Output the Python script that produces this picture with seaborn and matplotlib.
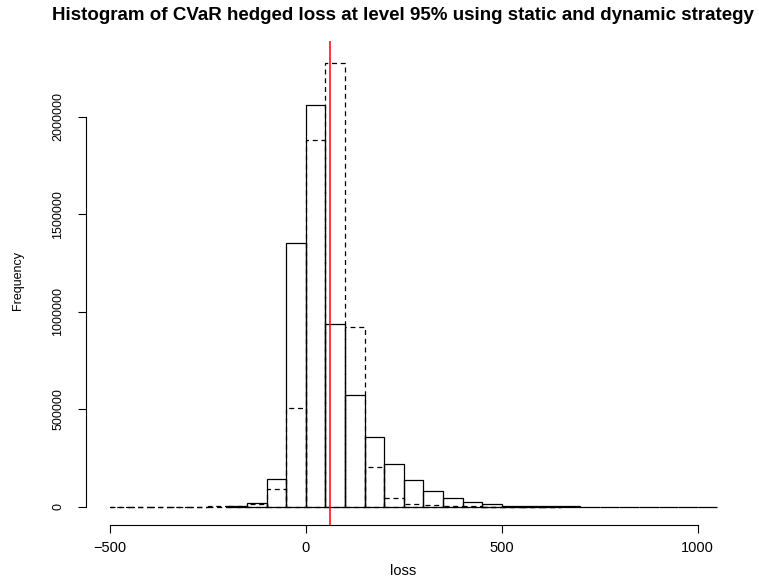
import numpy as np
import pandas as pd
import matplotlib
matplotlib.use("Agg")
import matplotlib.pyplot as plt
import seaborn as sns

# bin edges (width 50) for the two histograms
static_edges = list(range(-200, 1051, 50))
dynamic_edges = list(range(-500, 651, 50))

# counts, one per bin
static_counts = [1000, 17000, 140000, 1355000, 2060000, 936000, 572000, 356000,
                 221000, 137000, 80000, 45000, 26000, 12000, 6000, 3500, 2000,
                 1200, 800, 500, 300, 200, 120, 80, 50]
dynamic_counts = [50, 80, 150, 300, 600, 1500, 4000, 12000, 89000, 505000,
                  1882000, 2279000, 924000, 204000, 46000, 15000, 7000, 3000,
                  1500, 800, 400, 200, 100]

cvar_level = 62

x_ticks = [-500, 0, 500, 1000]
y_ticks = [0, 500000, 1000000, 1500000, 2000000]

static_df = pd.DataFrame({
    "loss": [(a + b) / 2 for a, b in zip(static_edges[:-1], static_edges[1:])],
    "count": static_counts,
})
dynamic_df = pd.DataFrame({
    "loss": [(a + b) / 2 for a, b in zip(dynamic_edges[:-1], dynamic_edges[1:])],
    "count": dynamic_counts,
})

sns.set_style("white")
plt.rcParams["font.family"] = ["Liberation Sans", "DejaVu Sans"]
plt.rcParams["text.color"] = "black"
plt.rcParams["xtick.color"] = "black"
plt.rcParams["ytick.color"] = "black"

fig = plt.figure(figsize=(7.59, 5.78), dpi=100)
ax = fig.add_axes([86 / 759, 53 / 578, 656 / 759, 484 / 578])

sns.histplot(data=static_df, x="loss", weights="count", bins=static_edges,
             element="bars", fill=False, color="black", linewidth=0.9, ax=ax)
sns.histplot(data=dynamic_df, x="loss", weights="count", bins=dynamic_edges,
             element="bars", fill=False, color="black", linewidth=0.9,
             linestyle=(0, (4, 3)), ax=ax)
ax.axvline(cvar_level, color="red", linewidth=1.1)

ax.set_xlim(-561, 1113)
ax.set_ylim(-94000, 2390000)

# R-style axes: only left and bottom, spanning the tick range
for side in ["top", "right"]:
    ax.spines[side].set_visible(False)
ax.spines["left"].set_bounds(0, 2000000)
ax.spines["bottom"].set_bounds(-500, 1000)
for side in ["left", "bottom"]:
    ax.spines[side].set_color("black")
    ax.spines[side].set_linewidth(0.8)

ax.set_xticks(x_ticks)
ax.set_xticklabels(["\u2212500" if t < 0 else str(t) for t in x_ticks])
ax.set_yticks(y_ticks)
ax.set_yticklabels([str(t) for t in y_ticks], rotation=90, va="center")
ax.tick_params(axis="both", direction="out", length=5.5, width=0.8,
               color="black", labelcolor="black", bottom=True, left=True)
ax.tick_params(axis="x", pad=6, labelsize=10.5)
ax.tick_params(axis="y", pad=10, labelsize=9)

ax.set_xlabel("")
ax.set_ylabel("")
fig.text(0.531, 1 - 571 / 578, "loss", ha="center", va="center", fontsize=10.5)
fig.text(18 / 759, 1 - 280 / 578, "Frequency", ha="center", va="center",
         rotation=90, fontsize=9)
fig.text(403 / 759, 1 - 16 / 578,
         "Histogram of CVaR hedged loss at level 95% using static and dynamic strategy",
         ha="center", va="center", fontsize=13.5, fontweight="bold")

fig.savefig("out.png", dpi=100)
